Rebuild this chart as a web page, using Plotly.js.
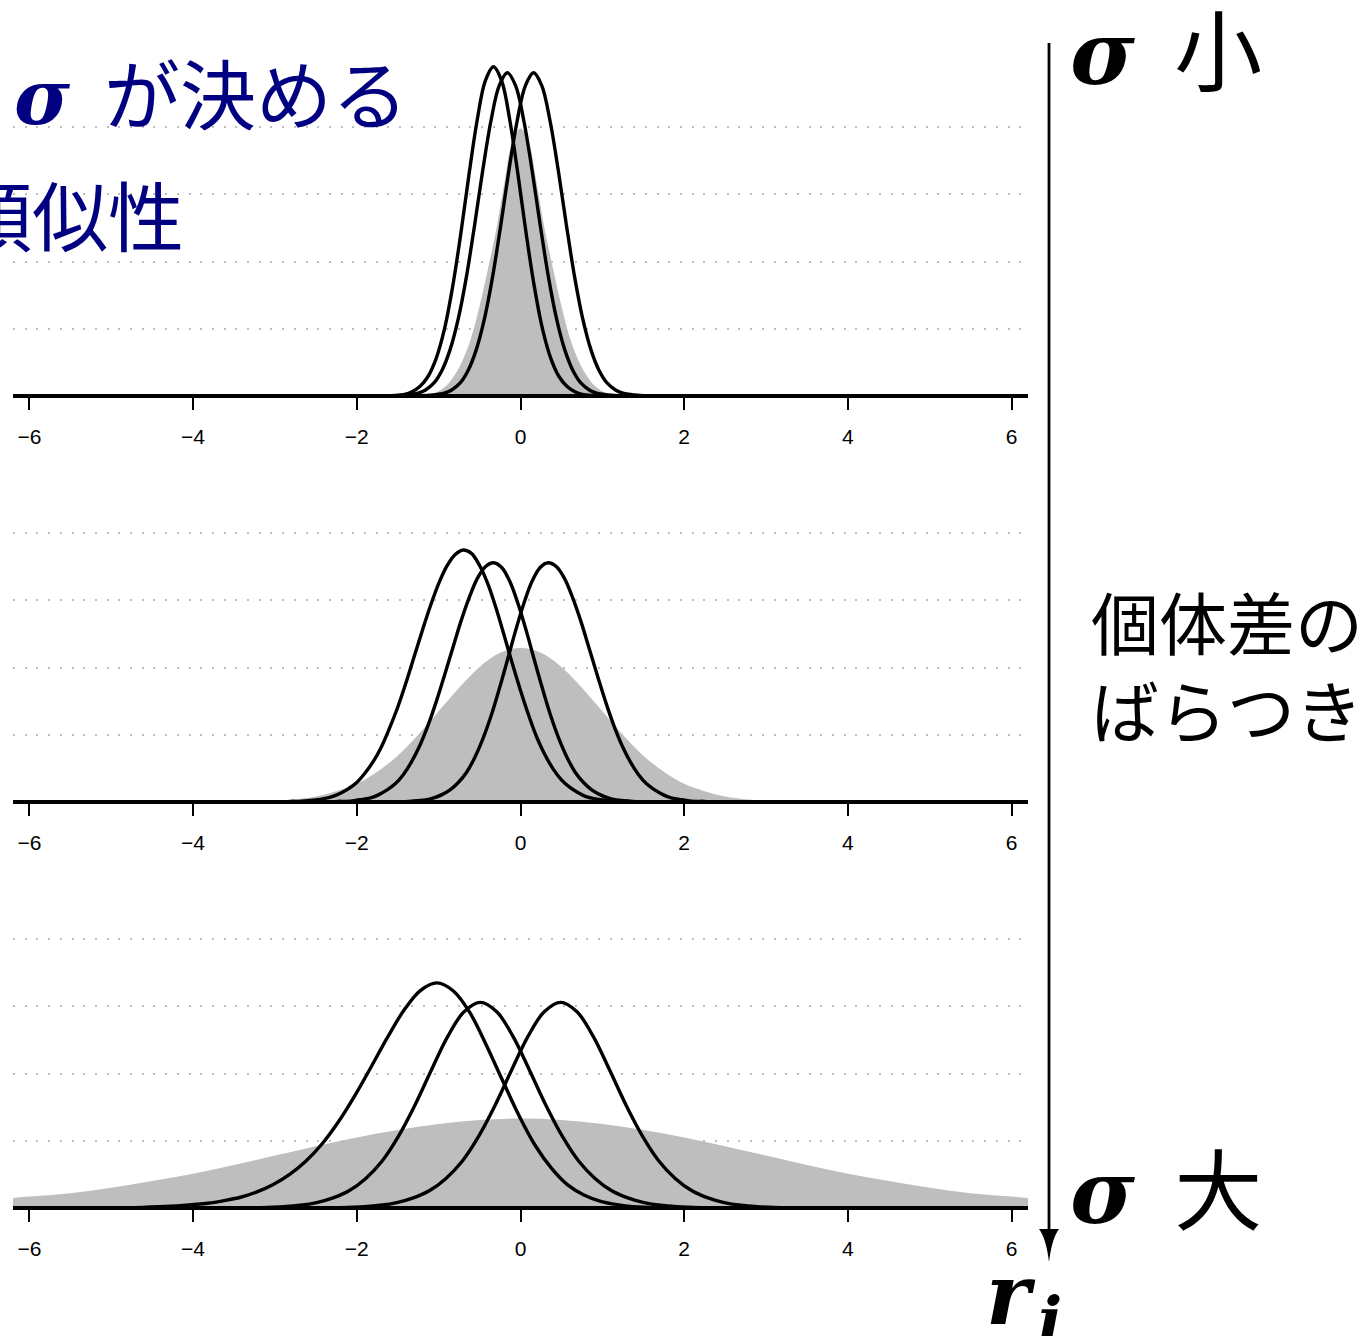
<!DOCTYPE html>
<html>
<head>
<meta charset="utf-8">
<script src="https://cdn.plot.ly/plotly-3.0.1.min.js"></script>
<style>
  body { margin: 0; background: #fff; }
  #chart { width: 1369px; height: 1336px; }
</style>
</head>
<body>
<div id="chart"></div>
<script>
// x axis ticks shared by the three panels
const xTicks = [-6, -4, -2, 0, 2, 4, 6];
const gridLevels = [1, 2, 3, 4];

// panel 1 : sigma small
const p1GrayX = [-1.2, -1.1, -1.0, -0.9, -0.8, -0.7, -0.6, -0.5, -0.4, -0.3, -0.2, -0.1, 0, 0.1, 0.2, 0.3, 0.4, 0.5, 0.6, 0.7, 0.8, 0.9, 1.0, 1.1, 1.2];
const p1GrayY = [0, 0.02, 0.07, 0.16, 0.32, 0.55, 0.88, 1.34, 1.88, 2.45, 3.15, 3.78, 3.98, 3.78, 3.15, 2.45, 1.88, 1.34, 0.88, 0.55, 0.32, 0.16, 0.07, 0.02, 0];
const p1AX = [-1.63, -1.53, -1.43, -1.33, -1.23, -1.13, -1.03, -0.93, -0.83, -0.73, -0.63, -0.53, -0.43, -0.33, -0.23, -0.13, -0.03, 0.07, 0.17, 0.27, 0.37, 0.47, 0.57, 0.67, 0.77, 0.87, 0.97];
const p1AY = [0, 0.01, 0.02, 0.06, 0.14, 0.29, 0.56, 0.99, 1.62, 2.41, 3.29, 4.10, 4.69, 4.90, 4.69, 4.10, 3.29, 2.41, 1.62, 0.99, 0.56, 0.29, 0.14, 0.06, 0.02, 0.01, 0];
const p1BX = [-1.56, -1.46, -1.36, -1.26, -1.16, -1.06, -0.96, -0.86, -0.76, -0.66, -0.56, -0.46, -0.36, -0.26, -0.16, -0.06, 0.04, 0.14, 0.24, 0.34, 0.44, 0.54, 0.64, 0.74, 0.84, 0.94, 1.04, 1.14, 1.24];
const p1BY = [0, 0.01, 0.02, 0.04, 0.09, 0.19, 0.38, 0.69, 1.15, 1.78, 2.55, 3.37, 4.10, 4.62, 4.81, 4.62, 4.10, 3.37, 2.55, 1.78, 1.15, 0.69, 0.38, 0.19, 0.09, 0.04, 0.02, 0.01, 0];
const p1CX = [-1.24, -1.14, -1.04, -0.94, -0.84, -0.74, -0.64, -0.54, -0.44, -0.34, -0.24, -0.14, -0.04, 0.06, 0.16, 0.26, 0.36, 0.46, 0.56, 0.66, 0.76, 0.86, 0.96, 1.06, 1.16, 1.26, 1.36, 1.46, 1.56];
const p1CY = [0, 0.01, 0.02, 0.04, 0.09, 0.19, 0.38, 0.69, 1.15, 1.78, 2.55, 3.37, 4.10, 4.62, 4.81, 4.62, 4.10, 3.37, 2.55, 1.78, 1.15, 0.69, 0.38, 0.19, 0.09, 0.04, 0.02, 0.01, 0];

// panel 2 : sigma medium
const p2GrayX = [-3.5, -3.25, -3, -2.75, -2.5, -2.25, -2, -1.75, -1.5, -1.25, -1, -0.75, -0.5, -0.25, 0, 0.25, 0.5, 0.75, 1, 1.25, 1.5, 1.75, 2, 2.25, 2.5, 2.75, 3, 3.25, 3.5];
const p2GrayY = [0, 0.01, 0.02, 0.04, 0.08, 0.16, 0.27, 0.45, 0.69, 1.0, 1.35, 1.70, 2.01, 2.22, 2.29, 2.22, 2.01, 1.70, 1.35, 1.0, 0.69, 0.45, 0.27, 0.16, 0.08, 0.04, 0.02, 0.01, 0];
const p2AX = [-2.9, -2.8, -2.7, -2.6, -2.5, -2.4, -2.3, -2.2, -2.1, -2.0, -1.9, -1.8, -1.7, -1.6, -1.5, -1.4, -1.3, -1.2, -1.1, -1.0, -0.9, -0.8, -0.7, -0.6, -0.5, -0.4, -0.3, -0.2, -0.1, 0, 0.1, 0.2, 0.3, 0.4, 0.5, 0.6, 0.7, 0.8, 0.9, 1.0, 1.1, 1.2, 1.3];
const p2AY = [0, 0.01, 0.01, 0.02, 0.03, 0.05, 0.08, 0.13, 0.20, 0.29, 0.43, 0.60, 0.82, 1.10, 1.41, 1.77, 2.16, 2.55, 2.92, 3.25, 3.51, 3.68, 3.75, 3.70, 3.52, 3.25, 2.89, 2.48, 2.06, 1.66, 1.29, 0.96, 0.70, 0.49, 0.33, 0.22, 0.14, 0.08, 0.05, 0.03, 0.02, 0.01, 0];
const p2BX = [-2.33, -2.23, -2.13, -2.03, -1.93, -1.83, -1.73, -1.63, -1.53, -1.43, -1.33, -1.23, -1.13, -1.03, -0.93, -0.83, -0.73, -0.63, -0.53, -0.43, -0.33, -0.23, -0.13, -0.03, 0.07, 0.17, 0.27, 0.37, 0.47, 0.57, 0.67, 0.77, 0.87, 0.97, 1.07, 1.17, 1.27, 1.37, 1.47];
const p2BY = [0, 0.01, 0.01, 0.02, 0.04, 0.06, 0.11, 0.18, 0.27, 0.41, 0.60, 0.84, 1.14, 1.49, 1.88, 2.28, 2.68, 3.03, 3.32, 3.50, 3.56, 3.49, 3.28, 2.95, 2.55, 2.11, 1.68, 1.28, 0.94, 0.66, 0.44, 0.29, 0.18, 0.11, 0.06, 0.03, 0.02, 0.01, 0];
const p2CX = [-1.46, -1.36, -1.26, -1.16, -1.06, -0.96, -0.86, -0.76, -0.66, -0.56, -0.46, -0.36, -0.26, -0.16, -0.06, 0.04, 0.14, 0.24, 0.34, 0.44, 0.54, 0.64, 0.74, 0.84, 0.94, 1.04, 1.14, 1.24, 1.34, 1.44, 1.54, 1.64, 1.74, 1.84, 1.94, 2.04, 2.14, 2.24, 2.34];
const p2CY = [0, 0.01, 0.02, 0.03, 0.06, 0.11, 0.18, 0.29, 0.44, 0.66, 0.94, 1.28, 1.68, 2.11, 2.55, 2.95, 3.28, 3.49, 3.56, 3.50, 3.32, 3.03, 2.68, 2.28, 1.88, 1.49, 1.14, 0.84, 0.60, 0.41, 0.27, 0.18, 0.11, 0.06, 0.04, 0.02, 0.01, 0.01, 0];

// panel 3 : sigma large
const p3GrayX = [-6.2, -6, -5.5, -5, -4.5, -4, -3.5, -3, -2.5, -2, -1.5, -1, -0.5, 0, 0.5, 1, 1.5, 2, 2.5, 3, 3.5, 4, 4.5, 5, 5.5, 6, 6.2];
const p3GrayY = [0.15, 0.17, 0.22, 0.30, 0.40, 0.51, 0.64, 0.78, 0.92, 1.05, 1.16, 1.25, 1.31, 1.33, 1.31, 1.25, 1.16, 1.05, 0.92, 0.78, 0.64, 0.51, 0.40, 0.30, 0.22, 0.17, 0.15];
const p3AX = [-4.82, -4.62, -4.42, -4.22, -4.02, -3.82, -3.62, -3.42, -3.22, -3.02, -2.82, -2.62, -2.42, -2.22, -2.02, -1.82, -1.62, -1.42, -1.22, -1.02, -0.82, -0.62, -0.42, -0.22, -0.02, 0.18, 0.38, 0.58, 0.78, 0.98, 1.18, 1.38, 1.58, 1.78];
const p3AY = [0, 0.01, 0.02, 0.03, 0.05, 0.07, 0.11, 0.16, 0.24, 0.35, 0.50, 0.70, 0.96, 1.29, 1.68, 2.11, 2.55, 2.95, 3.24, 3.35, 3.23, 2.91, 2.43, 1.90, 1.38, 0.93, 0.59, 0.34, 0.19, 0.10, 0.05, 0.02, 0.01, 0];
const p3BX = [-3.29, -3.09, -2.89, -2.69, -2.49, -2.29, -2.09, -1.89, -1.69, -1.49, -1.29, -1.09, -0.89, -0.69, -0.49, -0.29, -0.09, 0.11, 0.31, 0.51, 0.71, 0.91, 1.11, 1.31, 1.51, 1.71, 1.91, 2.11, 2.31];
const p3BY = [0, 0.01, 0.02, 0.04, 0.08, 0.15, 0.26, 0.44, 0.70, 1.07, 1.53, 2.05, 2.55, 2.92, 3.06, 2.92, 2.55, 2.05, 1.53, 1.07, 0.70, 0.44, 0.26, 0.15, 0.08, 0.04, 0.02, 0.01, 0];
const p3CX = [-2.31, -2.11, -1.91, -1.71, -1.51, -1.31, -1.11, -0.91, -0.71, -0.51, -0.31, -0.11, 0.09, 0.29, 0.49, 0.69, 0.89, 1.09, 1.29, 1.49, 1.69, 1.89, 2.09, 2.29, 2.49, 2.69, 2.89, 3.09, 3.29];
const p3CY = [0, 0.01, 0.02, 0.04, 0.08, 0.15, 0.26, 0.44, 0.70, 1.07, 1.53, 2.05, 2.55, 2.92, 3.06, 2.92, 2.55, 2.05, 1.53, 1.07, 0.70, 0.44, 0.26, 0.15, 0.08, 0.04, 0.02, 0.01, 0];

const W = 1369, H = 1336, L = 13, PW = 1015;
const UNIT = 67.2;            // pixels per grid step
const px = x => (x - L) / PW;
const py = y => 1 - y / H;

function panelTraces(axisSuffix, grayX, grayY, curves) {
    const traces = [{
        x: grayX, y: grayY,
        xaxis: 'x' + axisSuffix, yaxis: 'y' + axisSuffix,
        mode: 'lines', fill: 'tozeroy', fillcolor: '#bebebe',
        line: { width: 0, shape: 'spline', color: '#bebebe' },
        hoverinfo: 'skip', showlegend: false,
    }];
    curves.forEach(c => {
        traces.push({
            x: c[0], y: c[1],
            xaxis: 'x' + axisSuffix, yaxis: 'y' + axisSuffix,
            mode: 'lines',
            line: { color: '#000', width: 3.4, shape: 'spline' },
            hoverinfo: 'skip', showlegend: false,
        });
    });
    return traces;
}

function xAxis(anchor) {
    return {
        anchor, range: [-6.2, 6.2], showgrid: false, zeroline: false,
        showline: true, linecolor: '#000', linewidth: 3.5,
        ticks: 'outside', ticklen: 12, tickwidth: 1.5, tickcolor: '#000',
        tickvals: xTicks, ticklabelstandoff: 9,
        tickfont: { family: 'Liberation Sans, Arial, sans-serif', size: 21, color: '#000' },
        fixedrange: true,
    };
}

// the axis line sits just below the plot area, so y = 0 is put on its centre
function yAxis(anchor, bottom) {
    const h = 350;
    const lo = 1.75 / UNIT;
    return {
        anchor, domain: [py(bottom), py(bottom - h)], range: [lo, lo + h / UNIT],
        showgrid: true, gridcolor: '#bdbdbd', gridwidth: 2, griddash: '2px,9.7px',
        tickvals: gridLevels, showticklabels: false, ticks: '',
        zeroline: false, showline: false, fixedrange: true,
    };
}

const traces = [].concat(
    panelTraces('', p1GrayX, p1GrayY, [[p1AX, p1AY], [p1BX, p1BY], [p1CX, p1CY]]),
    panelTraces('2', p2GrayX, p2GrayY, [[p2AX, p2AY], [p2BX, p2BY], [p2CX, p2CY]]),
    panelTraces('3', p3GrayX, p3GrayY, [[p3AX, p3AY], [p3BX, p3BY], [p3CX, p3CY]])
);

const sig = '<span style="font-family:DejaVu Serif"><b><i>σ</i></b></span>';
const jp = 'Noto Sans CJK JP, sans-serif';
const serif = 'DejaVu Serif, serif';

function note(text, x, y, anchor, size, color, family) {
    return {
        text, xref: 'paper', yref: 'paper', x: px(x), y: py(y),
        xanchor: anchor, yanchor: 'middle', align: 'left', showarrow: false,
        font: { family: family || jp, size, color: color || '#000' },
    };
}

const annotations = [
    note(sig + '\u00a0\u00a0が決める', 12, 91, 'left', 76, '#000080'),
    note('類似性', 186, 213, 'right', 76, '#000080'),
    note(sig + '\u00a0\u00a0小', 1068, 46, 'left', 88),
    note(sig + '\u00a0\u00a0大', 1068, 1184, 'left', 88),
    note('個体差の<br>ばらつき', 1089, 664, 'left', 68),
    note('<b><i>r</i></b>', 984, 1294, 'left', 84, '#000', serif),
    note('<b><i>i</i></b>', 1036, 1319, 'left', 64, '#000', serif),
];

const shapes = [
    { type: 'line', xref: 'paper', yref: 'paper', x0: px(1049), x1: px(1049), y0: py(43), y1: py(1240),
      line: { color: '#000', width: 2.8 } },
    { type: 'path', xref: 'paper', yref: 'paper',
      path: `M ${px(1039)},${py(1229)} Q ${px(1046)},${py(1238)} ${px(1049)},${py(1262)} Q ${px(1052)},${py(1238)} ${px(1059)},${py(1229)} Z`,
      fillcolor: '#000', line: { width: 0 } },
];

const layout = {
    width: W, height: H,
    paper_bgcolor: '#fff', plot_bgcolor: '#fff',
    margin: { l: L, r: W - L - PW, t: 0, b: 0, pad: 0 },
    font: { family: 'Liberation Sans, Arial, sans-serif', color: '#000' },
    showlegend: false,
    xaxis: xAxis('y'), yaxis: yAxis('x', 394.25),
    xaxis2: xAxis('y2'), yaxis2: yAxis('x2', 800.25),
    xaxis3: xAxis('y3'), yaxis3: yAxis('x3', 1206.25),
    annotations, shapes,
};

Plotly.newPlot('chart', traces, layout, { displayModeBar: false, responsive: false });
</script>
</body>
</html>
